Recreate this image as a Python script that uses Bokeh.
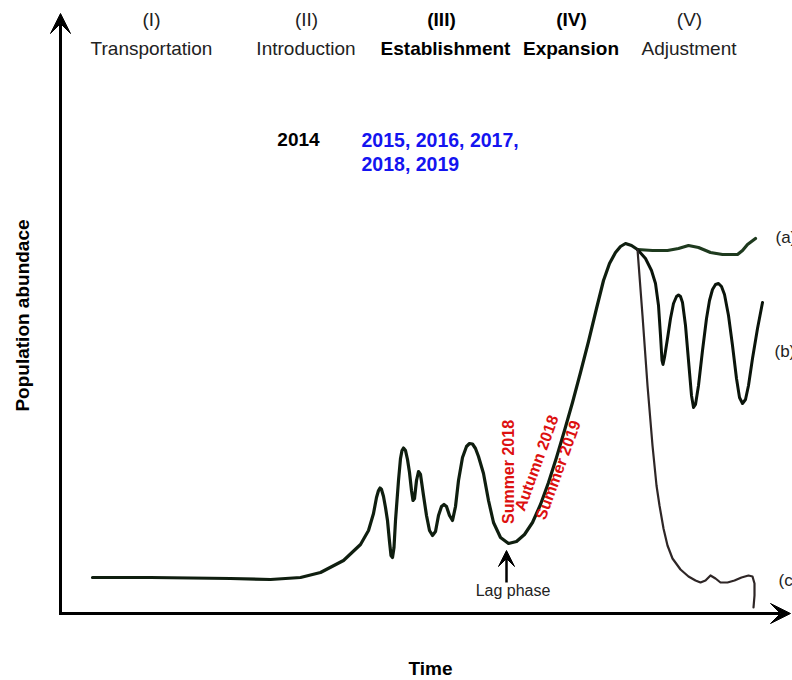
import math
from bokeh.plotting import figure
from bokeh.models import Range1d, Label, Arrow, VeeHead
from bokeh.embed import file_html
from bokeh.resources import INLINE

# ---- data (time, abundance) ----
main_t = [32, 90, 170, 210, 240, 260, 283, 300, 308, 313, 316, 318, 319.5, 321, 323, 325, 327, 329, 330.5, 332,
          333.5, 335, 338, 340, 341.5, 343, 345, 347, 349, 351, 352.5, 354, 356, 358, 360, 363, 366, 369, 372,
          375, 378, 381, 383.5, 386, 389, 392, 395, 398, 402, 406, 409, 412, 415, 418, 423, 428, 433, 440, 448,
          456, 464, 472, 480, 488, 496, 504, 512, 520, 528, 536, 543, 549, 555, 560, 565, 571, 577]
main_a = [36, 36, 35, 34, 36, 41, 53, 69, 83, 100, 116, 123, 125.5, 124, 117, 106, 93, 72, 58, 56,
          66, 93, 133, 155, 163, 165.5, 163, 154, 141, 123, 113, 115, 133, 142, 139, 118, 98, 83, 78,
          82, 98, 107, 109, 107, 98, 93, 107, 133, 156, 167, 170, 169.5, 165, 157, 140, 113, 91, 76, 70,
          72, 79, 91, 109, 131, 156, 183, 211, 241, 272, 305, 333, 350, 361, 367, 370, 368, 364]

a_t = [577, 592, 607, 618, 628, 638, 650, 662, 677, 682, 687, 695]
a_a = [364, 363, 363, 365, 368, 366, 361, 359, 359, 363, 369, 375]

b_t = [577, 585, 591, 595, 598, 600, 601.5, 602.5, 604, 607, 610, 613, 616, 618, 620, 622, 625, 628, 631, 633,
       635, 638, 642, 646, 649, 652, 655, 658, 661, 664, 668, 672, 676, 679, 682, 685, 688, 692, 697, 702]
b_a = [364, 355, 343, 330, 308, 278, 253, 249, 256, 275, 295, 310, 317, 318.5, 317, 311, 288, 253, 218, 206,
       209, 228, 263, 295, 313, 324, 329, 330, 327, 319, 298, 268, 235, 216, 210, 214, 228, 255, 285, 311]

c_t = [577, 582, 587, 592, 596, 599, 603, 607, 612, 620, 628, 635, 640, 645, 650, 655, 660, 667, 674,
       681, 688, 692, 694, 694, 693]
c_a = [364, 298, 228, 168, 128, 108, 85, 68, 55, 44, 37, 33, 31, 33, 38, 35, 31, 31, 33,
       36, 38, 37, 30, 18, 6]

stage_numerals = ["(I)", "(II)", "(III)", "(IV)", "(V)"]
stage_names = ["Transportation", "Introduction", "Establishment", "Expansion", "Adjustment"]
stage_bold = [False, False, True, True, False]
stage_num_t = [91, 246, 381, 511, 629]
stage_name_t = [91, 245.5, 385, 510.5, 628.5]

season_labels = ["Summer 2018", "Autumn 2018", "Summer 2019"]
season_t = [448, 476, 497.5]
season_a = [141.5, 150.5, 143.5]
season_angle_deg = [90, 70, 70]

outcome_labels = ["(a)", "(b)", "(c)"]
outcome_t = [715, 714, 718]
outcome_a = [376, 262, 33]

FONT = "Liberation Sans"

p = figure(width=792, height=680, output_backend="svg", toolbar_location=None,
           x_range=Range1d(-60, 732), y_range=Range1d(-67, 613),
           x_axis_location=None, y_axis_location=None, min_border=0)
p.grid.visible = False
p.outline_line_color = None
p.background_fill_color = "white"

# axes as arrows
p.add_layout(Arrow(end=VeeHead(size=20, fill_color="black", line_color="black"),
                   x_start=0, y_start=-1.5, x_end=0, y_end=600, line_width=3, line_color="black"))
p.add_layout(Arrow(end=VeeHead(size=20, fill_color="black", line_color="black"),
                   x_start=-1.5, y_start=0, x_end=730, y_end=0, line_width=3, line_color="black"))

# curves
p.line(main_t, main_a, line_width=3.2, line_color="#0f1e0f", line_join="round", line_cap="round")
p.line(a_t, a_a, line_width=3.2, line_color="#1e3a1e", line_join="round", line_cap="round")
p.line(b_t, b_a, line_width=3, line_color="#0a140a", line_join="round", line_cap="round")
p.line(c_t, c_a, line_width=2.2, line_color="#2e2626", line_join="round", line_cap="round")

# lag phase arrow
p.add_layout(Arrow(end=VeeHead(size=16, fill_color="black", line_color="black"),
                   x_start=446, y_start=31, x_end=446, y_end=63, line_width=2.5, line_color="black"))

# stage labels
for num, name, bold, tn, tm in zip(stage_numerals, stage_names, stage_bold, stage_num_t, stage_name_t):
    style = "bold" if bold else "normal"
    col = "black" if bold else "#222222"
    p.add_layout(Label(x=tn, y=594.5, text=num, text_font=FONT, text_font_size="19px",
                       text_font_style=style, text_color=col, text_align="center",
                       text_baseline="alphabetic"))
    p.add_layout(Label(x=tm, y=565, text=name, text_font=FONT, text_font_size="19px",
                       text_font_style=style, text_color=col, text_align="center",
                       text_baseline="alphabetic"))

p.add_layout(Label(x=238, y=474, text="2014", text_font=FONT, text_font_size="19px",
                   text_font_style="bold", text_color="black", text_align="center",
                   text_baseline="alphabetic"))
p.add_layout(Label(x=301, y=474, text="2015, 2016, 2017,", text_font=FONT, text_font_size="19.5px",
                   text_font_style="bold", text_color="#1414f0", text_align="left",
                   text_baseline="alphabetic"))
p.add_layout(Label(x=301, y=450, text="2018, 2019", text_font=FONT, text_font_size="19.5px",
                   text_font_style="bold", text_color="#1414f0", text_align="left",
                   text_baseline="alphabetic"))

for txt, t, a, ang in zip(season_labels, season_t, season_a, season_angle_deg):
    p.add_layout(Label(x=t, y=a, text=txt, text_font=FONT, text_font_size="16px",
                       text_font_style="bold", text_color="#dd1010", text_align="center",
                       text_baseline="middle", angle=math.radians(ang)))

for txt, t, a in zip(outcome_labels, outcome_t, outcome_a):
    p.add_layout(Label(x=t, y=a, text=txt, text_font=FONT, text_font_size="17px",
                       text_color="#222222", text_align="left", text_baseline="middle"))

p.add_layout(Label(x=452.5, y=23, text="Lag phase", text_font=FONT, text_font_size="16px",
                   text_color="#222222", text_align="center", text_baseline="middle"))

p.add_layout(Label(x=-38, y=298, text="Population abundace", text_font=FONT, text_font_size="19px",
                   text_font_style="bold", text_color="black", text_align="center",
                   text_baseline="middle", angle=math.pi / 2))
p.add_layout(Label(x=370, y=-55, text="Time", text_font=FONT, text_font_size="19px",
                   text_font_style="bold", text_color="black", text_align="center",
                   text_baseline="middle"))

open("out.html", "w").write(file_html(p, INLINE))
